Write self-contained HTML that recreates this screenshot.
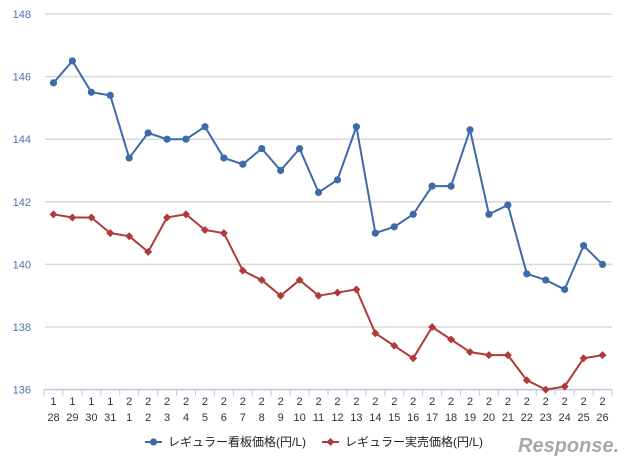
<!DOCTYPE html>
<html><head><meta charset="utf-8"><style>
body{margin:0;background:#fff;width:640px;height:468px;overflow:hidden;font-family:"Liberation Sans","Noto Sans CJK JP",sans-serif}
svg text{font-family:"Liberation Sans","Noto Sans CJK JP",sans-serif}
</style></head><body>
<svg id="c" width="640" height="468"></svg>
<script>
const cats=["1/28","1/29","1/30","1/31","2/1","2/2","2/3","2/4","2/5","2/6","2/7","2/8","2/9","2/10","2/11","2/12","2/13","2/14","2/15","2/16","2/17","2/18","2/19","2/20","2/21","2/22","2/23","2/24","2/25","2/26"];
const signPrice=[145.8,146.5,145.5,145.4,143.4,144.2,144.0,144.0,144.4,143.4,143.2,143.7,143.0,143.7,142.3,142.7,144.4,141.0,141.2,141.6,142.5,142.5,144.3,141.6,141.9,139.7,139.5,139.2,140.6,140.0];
const realPrice=[141.6,141.5,141.5,141.0,140.9,140.4,141.5,141.6,141.1,141.0,139.8,139.5,139.0,139.5,139.0,139.1,139.2,137.8,137.4,137.0,138.0,137.6,137.2,137.1,137.1,136.3,136.0,136.1,137.0,137.1];
const yTicks=[136,138,140,142,144,146,148];
const svg=document.getElementById('c');const NS='http://www.w3.org/2000/svg';
function mk(t,a,p){const e=document.createElementNS(NS,t);for(const k in a)e.setAttribute(k,a[k]);(p||svg).appendChild(e);return e;}
const L=44,R=612,T=14,B=389.6,ymin=136,ymax=148;
const bw=(R-L)/cats.length;
const x=i=>L+bw*(i+0.5);
const y=v=>B-(v-ymin)/(ymax-ymin)*(B-T);
yTicks.forEach(v=>{
 if(v>ymin){const g=mk('line',{x1:L+1,x2:R,y1:y(v),y2:y(v),stroke:'#d9d9d9','stroke-width':1.5});
 }
 const t=mk('text',{x:31,y:y(v)+4,'text-anchor':'end','font-size':11,fill:'#4a72b0'});t.textContent=v;
 
});
const ax=mk('line',{x1:L,x2:R,y1:B,y2:B,stroke:'#b8c8dc','stroke-width':1.5});

for(let i=0;i<=cats.length;i++){const tk=mk('line',{x1:L+bw*i,x2:L+bw*i,y1:B,y2:B+6,stroke:'#b8c8dc'});
 }
cats.forEach((c,i)=>{const p=c.split('/');
 const t1=mk('text',{x:x(i),y:405,'text-anchor':'middle','font-size':11,fill:'#333'});t1.textContent=p[0];
 
 const t2=mk('text',{x:x(i),y:421,'text-anchor':'middle','font-size':11,fill:'#333'});t2.textContent=p[1];
 
});
function series(d,col,name,diamond){
 const pl=mk('polyline',{points:d.map((v,i)=>x(i)+','+y(v)).join(' '),fill:'none',stroke:col,'stroke-width':2});
 
 d.forEach((v,i)=>{let m;
  if(diamond)m=mk('polygon',{points:`${x(i)},${y(v)-4} ${x(i)+4},${y(v)} ${x(i)},${y(v)+4} ${x(i)-4},${y(v)}`,fill:col});
  else m=mk('circle',{cx:x(i),cy:y(v),r:3.6,fill:col});
  });
}
series(signPrice,'#3d6aa8','sign-price',false);
series(realPrice,'#b03a3a','real-price',true);
function legend(x0,col,label,diamond,name){
 const g=mk('g',{});
 mk('line',{x1:x0,x2:x0+17,y1:442,y2:442,stroke:col,'stroke-width':2},g);
 if(diamond)mk('polygon',{points:`${x0+8.5},438 ${x0+12.5},442 ${x0+8.5},446 ${x0+4.5},442`,fill:col},g);
 else mk('circle',{cx:x0+8.5,cy:442,r:3.6,fill:col},g);
 const t=mk('text',{x:x0+23,y:446,'font-size':12,fill:'#222'},g);t.textContent=label;
}
legend(145,'#3d6aa8','レギュラー看板価格(円/L)',false,'legend-sign-price');
legend(322,'#b03a3a','レギュラー実売価格(円/L)',true,'legend-real-price');
const lg=mk('text',{x:518,y:452,'font-size':20,'font-style':'italic','font-weight':'bold',fill:'#a8a8a8'});lg.textContent='Response.';

</script>
</body></html>
